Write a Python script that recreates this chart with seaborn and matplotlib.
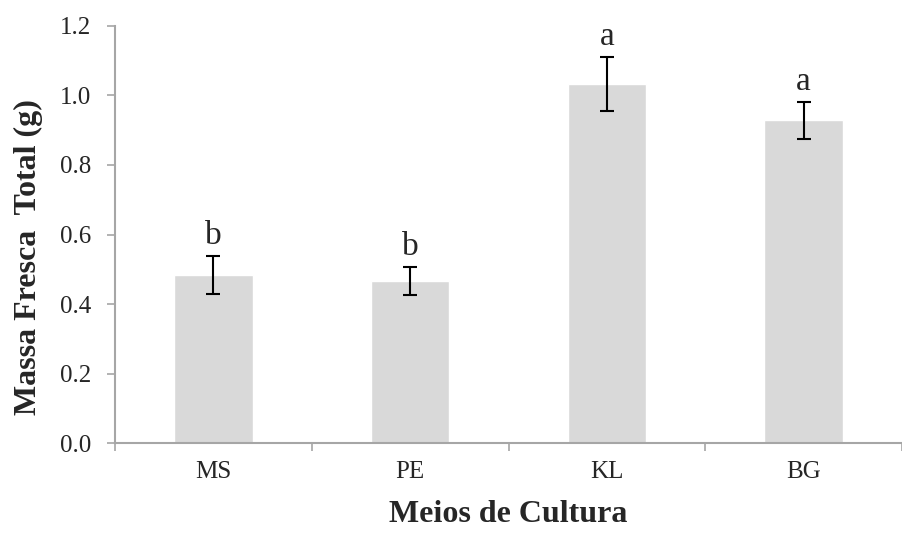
import matplotlib
matplotlib.use("Agg")
import matplotlib.pyplot as plt
import numpy as np
import pandas as pd
import seaborn as sns

meios = ["MS", "PE", "KL", "BG"]
massa = [0.483, 0.466, 1.033, 0.929]
erro = [0.055, 0.040, 0.077, 0.053]
letras = ["b", "b", "a", "a"]

sns.set_style("white")
plt.rcParams["font.family"] = ["Liberation Serif", "DejaVu Serif"]

df = pd.DataFrame({"meio": meios, "massa": massa})

fig = plt.figure(figsize=(9.02, 5.36), dpi=100)
ax = fig.add_axes([0.1275, 0.1735, 0.8725, 0.778])

sns.barplot(data=df, x="meio", y="massa", color="#d9d9d9", saturation=1,
            width=0.4, errorbar=None, ax=ax)
ax.errorbar(np.arange(len(meios)), massa, yerr=erro, fmt="none",
            ecolor="black", elinewidth=1.5, capsize=5, capthick=1.5)

# letras da comparacao de medias
for i, (m, e, l) in enumerate(zip(massa, erro, letras)):
    ax.text(i, m + e + 0.035, l, ha="center", va="baseline", fontsize=24)

ax.set_xlim(-0.5, 3.45)
ax.set_ylim(0, 1.2)
ax.set_yticks(np.arange(0, 1.21, 0.2))
ax.set_yticklabels([f"{v:.1f}" for v in np.arange(0, 1.21, 0.2)])
ax.set_xticks(np.arange(-0.5, 3.6, 1.0), minor=True)

for s in ["top", "right"]:
    ax.spines[s].set_visible(False)
for s in ["left", "bottom"]:
    ax.spines[s].set_color("#a6a6a6")
    ax.spines[s].set_linewidth(1.5)

ax.tick_params(axis="y", which="major", direction="out", length=6, width=1.2,
               color="#a6a6a6", labelsize=18, pad=11, left=True)
ax.tick_params(axis="x", which="major", length=0, labelsize=18, pad=13)
ax.tick_params(axis="x", which="minor", direction="out", length=6, width=1.2,
               color="#a6a6a6", bottom=True)

ax.set_xlabel("Meios de Cultura", fontsize=23, fontweight="bold", labelpad=12)
ax.set_ylabel("Massa Fresca  Total (g)", fontsize=23, fontweight="bold")
ax.yaxis.set_label_coords(-0.092, 0.445)

fig.savefig("out.png", dpi=100)
